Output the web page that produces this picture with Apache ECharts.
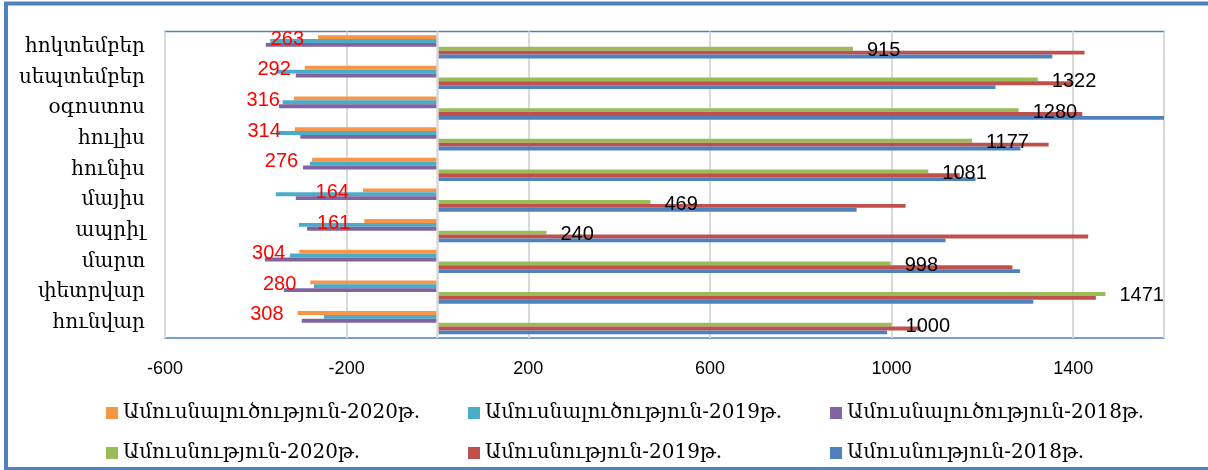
<!DOCTYPE html>
<html><head><meta charset="utf-8">
<script src="https://cdn.jsdelivr.net/npm/echarts@6/dist/echarts.min.js"></script>
<style>html,body{margin:0;padding:0;background:#fff}#c{width:1208px;height:470px}</style>
</head><body><div id="c"></div><script>
const months = ['հունվար','փետրվար','մարտ','ապրիլ','մայիս','հունիս','հուլիս','օգոստոս','սեպտեմբեր','հոկտեմբեր'];
const seriesNames = ['Ամուսնալուծություն-2020թ.','Ամուսնալուծություն-2019թ.','Ամուսնալուծություն-2018թ.','Ամուսնություն-2020թ.','Ամուսնություն-2019թ.','Ամուսնություն-2018թ.'];
const divorces2020 = [-308,-280,-304,-161,-164,-276,-314,-316,-292,-263];
const divorces2019 = [-250,-272,-325,-305,-356,-281,-355,-341,-355,-368];
const divorces2018 = [-299,-338,-380,-287,-312,-296,-302,-349,-312,-378];
const marriages2020 = [1000,1471,998,240,469,1081,1177,1280,1322,915];
const marriages2019 = [1064,1450,1266,1433,1031,1150,1346,1420,1400,1425];
const marriages2018 = [990,1312,1283,1119,923,1185,1284,1700,1229,1354];
const xMin = -600, xMax = 1600, xInterval = 400;

const colors = ['#f79646','#4bacc6','#8064a2','#9bbb59','#c0504d','#4f81bd'];
const allData = [divorces2020, divorces2019, divorces2018, marriages2020, marriages2019, marriages2018];
const numFont = 'Liberation Sans';
const armFont = 'DejaVu Serif, DejaVu Sans';

const series = allData.map((d, i) => {
  const s = {
    name: seriesNames[i], type: 'bar', data: d,
    barGap: 0, barCategoryGap: '24%',
    itemStyle: {color: colors[i]},
    emphasis: {disabled: true},
    animation: false
  };
  if (i === 0) {
    s.label = {show: true, position: 'left', distance: 14, color: '#ff0000', fontSize: 20, fontFamily: numFont,
      offset: [0, 2], formatter: p => String(Math.abs(p.value))};
    s.markLine = {silent: true, symbol: 'none', label: {show: false},
      lineStyle: {color: '#d9d9d9', width: 2.5, type: 'solid'}, data: [{xAxis: 0}], animation: false};
  }
  if (i === 3) {
    s.label = {show: true, position: 'right', distance: 14, color: '#000', fontSize: 20, fontFamily: numFont,
      offset: [0, 2], formatter: p => String(p.value)};
  }
  return s;
});

const legendPos = [[106,403],[468,403],[830,403],[106,443],[468,443],[830,443]];
const legends = seriesNames.map((n, i) => ({
  data: [n], left: legendPos[i][0], top: legendPos[i][1],
  icon: 'rect', itemWidth: 12, itemHeight: 12, padding: 0, selectedMode: false,
  textStyle: {fontSize: 20, color: '#000', fontFamily: armFont}
}));

const chart = echarts.init(document.getElementById('c'), null, {renderer: 'canvas'});
chart.setOption({
  animation: false,
  color: colors,
  grid: {left: 165, right: 44, top: 31.5, bottom: 132, show: true, borderColor: '#4f81bd', borderWidth: 1.5, containLabel: false},
  xAxis: {type: 'value', min: xMin, max: xMax, interval: xInterval,
    axisLine: {show: false}, axisTick: {show: false},
    splitLine: {show: true, lineStyle: {color: '#d9d9d9', width: 2}},
    axisLabel: {color: '#000', fontSize: 18, fontFamily: numFont, margin: 22, showMaxLabel: false,
      formatter: v => String(v)}},
  yAxis: {type: 'category', data: months,
    axisLine: {show: false, onZero: false}, axisTick: {show: false},
    axisLabel: {color: '#000', fontSize: 20, fontFamily: armFont, margin: 20}},
  legend: legends,
  series: series,
  graphic: [{type: 'rect', shape: {x: 6, y: 3.5, width: 1210, height: 465.5},
    style: {fill: 'none', stroke: '#4f81bd', lineWidth: 4}, silent: true, z: 100}]
});
</script></body></html>
